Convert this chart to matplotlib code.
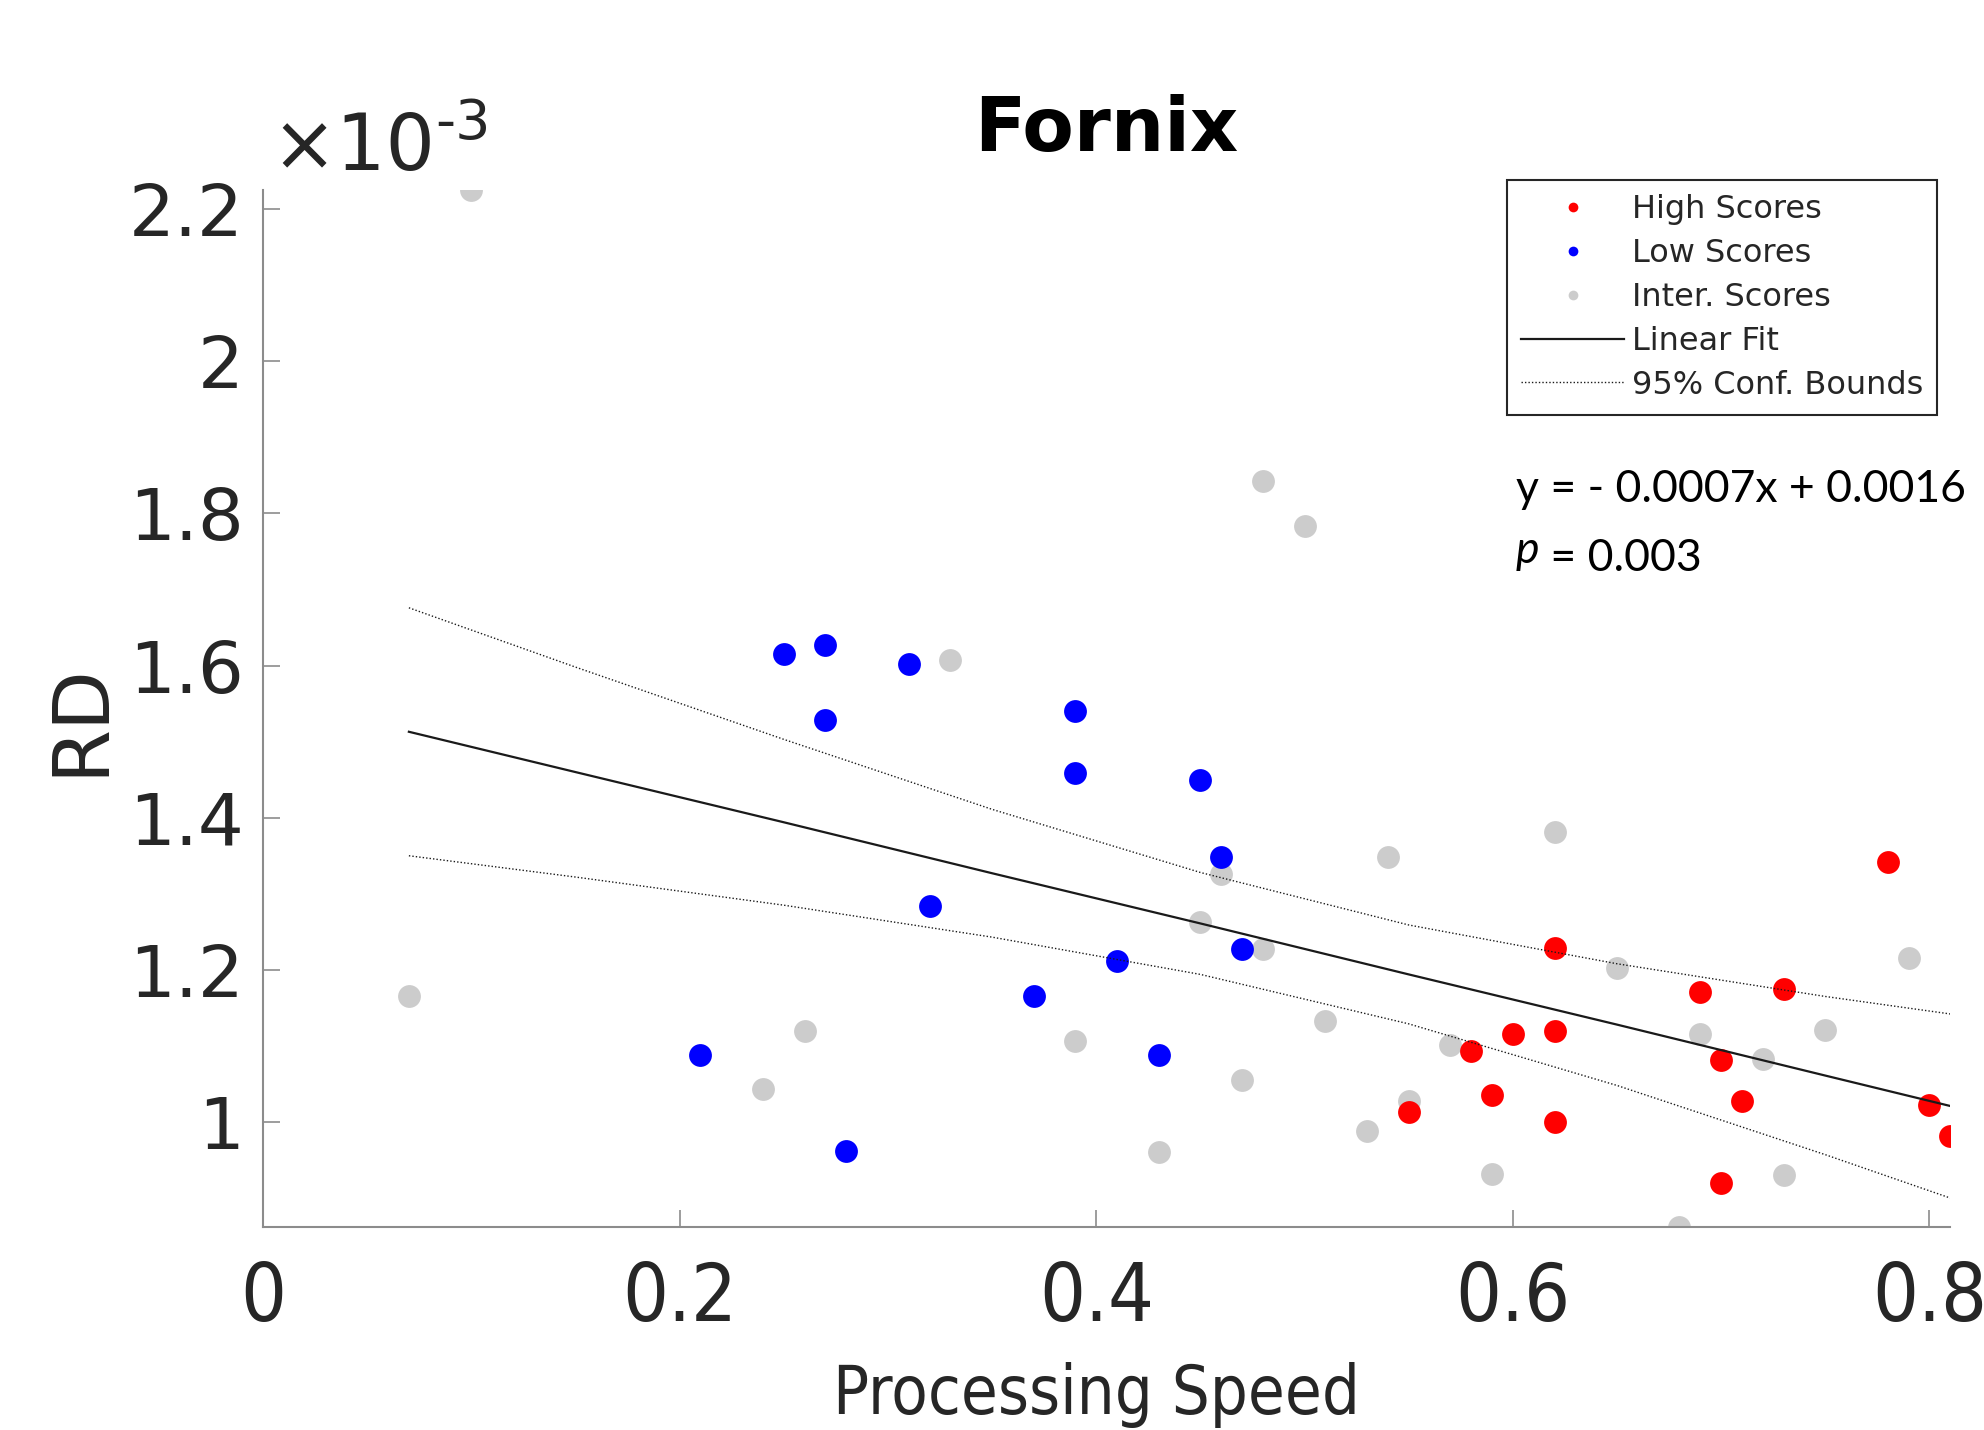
import numpy as np
import matplotlib.pyplot as plt
from matplotlib.lines import Line2D
from matplotlib.ticker import FuncFormatter

# RD values are read in units of 1e-3
gray_x = [0.10, 0.48, 0.50, 0.33, 0.07, 0.62, 0.54, 0.46, 0.45, 0.48, 0.65, 0.79,
          0.51, 0.26, 0.39, 0.57, 0.69, 0.72, 0.75, 0.24, 0.47, 0.55, 0.53, 0.43,
          0.59, 0.73, 0.68]
gray_y = [2.225, 1.843, 1.784, 1.607, 1.166, 1.381, 1.349, 1.326, 1.263, 1.228, 1.203, 1.216,
          1.133, 1.120, 1.106, 1.101, 1.116, 1.083, 1.121, 1.043, 1.055, 1.028, 0.988, 0.960,
          0.932, 0.930, 0.862]

low_x = [0.25, 0.27, 0.31, 0.27, 0.39, 0.39, 0.45, 0.46, 0.32, 0.41, 0.47, 0.37, 0.21, 0.43, 0.28]
low_y = [1.615, 1.627, 1.602, 1.528, 1.540, 1.459, 1.449, 1.349, 1.284, 1.211, 1.228, 1.165,
         1.088, 1.088, 0.962]

high_x = [0.78, 0.62, 0.69, 0.73, 0.60, 0.62, 0.58, 0.70, 0.59, 0.71, 0.55, 0.62, 0.80, 0.81, 0.70]
high_y = [1.342, 1.229, 1.171, 1.175, 1.116, 1.120, 1.093, 1.081, 1.035, 1.027, 1.013, 1.000,
          1.022, 0.982, 0.920]

# linear fit and 95% bounds
fit_x = [0.07, 0.15, 0.25, 0.35, 0.45, 0.55, 0.65, 0.75, 0.81]
fit_y = [1.513, 1.460, 1.394, 1.327, 1.261, 1.194, 1.128, 1.061, 1.021]
upper = [1.676, 1.598, 1.503, 1.411, 1.328, 1.259, 1.208, 1.165, 1.142]
lower = [1.350, 1.322, 1.285, 1.243, 1.194, 1.129, 1.048, 0.957, 0.900]

y_ticks = [1.0, 1.2, 1.4, 1.6, 1.8, 2.0, 2.2]
x_ticks = [0, 0.2, 0.4, 0.6, 0.8]

sc = 1e-3
txt = '#262626'
spine = '#8c8c8c'
red, blue, gray = '#ff0000', '#0000ff', '#cccccc'

plt.rcParams['font.family'] = ['DejaVu Sans']

fig = plt.figure(figsize=(19.84, 14.30), dpi=100)
ax = fig.add_axes([0.1326, 0.142, 0.8504, 0.725])

ms = 270
ax.scatter(gray_x, np.array(gray_y) * sc, s=ms, c=gray, linewidths=0, zorder=2)
ax.scatter(low_x, np.array(low_y) * sc, s=ms, c=blue, linewidths=0, zorder=3)
ax.scatter(high_x, np.array(high_y) * sc, s=ms, c=red, linewidths=0, zorder=3)

ax.plot(fit_x, np.array(fit_y) * sc, color='#1a1a1a', lw=1.6, zorder=4)
ax.plot(fit_x, np.array(upper) * sc, color='#1a1a1a', lw=1.0, ls=(0, (1, 1.5)), zorder=4)
ax.plot(fit_x, np.array(lower) * sc, color='#1a1a1a', lw=1.0, ls=(0, (1, 1.5)), zorder=4)

ax.set_xlim(0, 0.81)
ax.set_ylim(0.862 * sc, 2.225 * sc)
ax.set_xticks(x_ticks)
ax.set_yticks([v * sc for v in y_ticks])
ax.xaxis.set_major_formatter(FuncFormatter(lambda v, _: f"{v:g}"))
ax.yaxis.set_major_formatter(FuncFormatter(lambda v, _: f"{v / sc:g}"))

for s in ['top', 'right']:
    ax.spines[s].set_visible(False)
for s in ['left', 'bottom']:
    ax.spines[s].set_color(spine)
    ax.spines[s].set_linewidth(1.5)

ax.tick_params(axis='both', direction='in', length=12, width=1.2, color=spine, labelcolor=txt)
ax.tick_params(axis='y', labelsize=52, pad=14)
ax.tick_params(axis='x', labelsize=58, pad=24)
for lab in ax.get_xticklabels():
    lab.set_fontstretch('condensed')

ax.set_xlabel('Processing Speed', fontsize=48, color=txt, fontstretch='condensed')
ax.xaxis.set_label_coords(0.494, -0.180)
ax.xaxis.label.set_va('baseline')
ax.set_ylabel('RD', fontsize=56, color=txt)
ax.yaxis.set_label_coords(-0.086, 0.49)
ax.set_title('Fornix', fontsize=54, fontweight='bold', color='black', pad=28)

# exponent label in the MATLAB style
ex = fig.text(0.1366, 0.881, '\u00d710', fontsize=56, color=txt, ha='left', va='baseline')
ax.annotate('-3', xy=(1, 0.62), xycoords=ex, fontsize=40, color=txt,
            ha='left', va='baseline', annotation_clip=False)

handles = [
    Line2D([], [], ls='none', marker='o', ms=7, mfc=red, mec='none'),
    Line2D([], [], ls='none', marker='o', ms=7, mfc=blue, mec='none'),
    Line2D([], [], ls='none', marker='o', ms=7, mfc=gray, mec='none'),
    Line2D([], [], color='#1a1a1a', lw=1.6),
    Line2D([], [], color='#1a1a1a', lw=1.0, ls=(0, (1, 1.5))),
]
labels = ['High Scores', 'Low Scores', 'Inter. Scores', 'Linear Fit', '95% Conf. Bounds']
leg = ax.legend(handles, labels, loc='upper left', bbox_to_anchor=(0.7596, 0.8741),
                bbox_transform=fig.transFigure, borderaxespad=0, fontsize=23,
                frameon=True, fancybox=False, framealpha=1, edgecolor=txt,
                handlelength=3.2, handletextpad=0.25, borderpad=0.45, labelspacing=0.4,
                labelcolor=txt)
leg.get_frame().set_linewidth(1.5)

fig.text(0.764, 0.649, 'y = - 0.0007x + 0.0016', fontsize=32, family='Lato',
         color='black', ha='left', va='baseline')
pt = fig.text(0.764, 0.606, 'p', fontsize=32, family='Lato', style='italic',
              color='black', ha='left', va='baseline')
ax.annotate(' = 0.003', xy=(1, 0), xycoords=pt, fontsize=32, family='Lato',
            color='black', ha='left', va='baseline', annotation_clip=False)

fig.savefig('out.png', dpi=100)
